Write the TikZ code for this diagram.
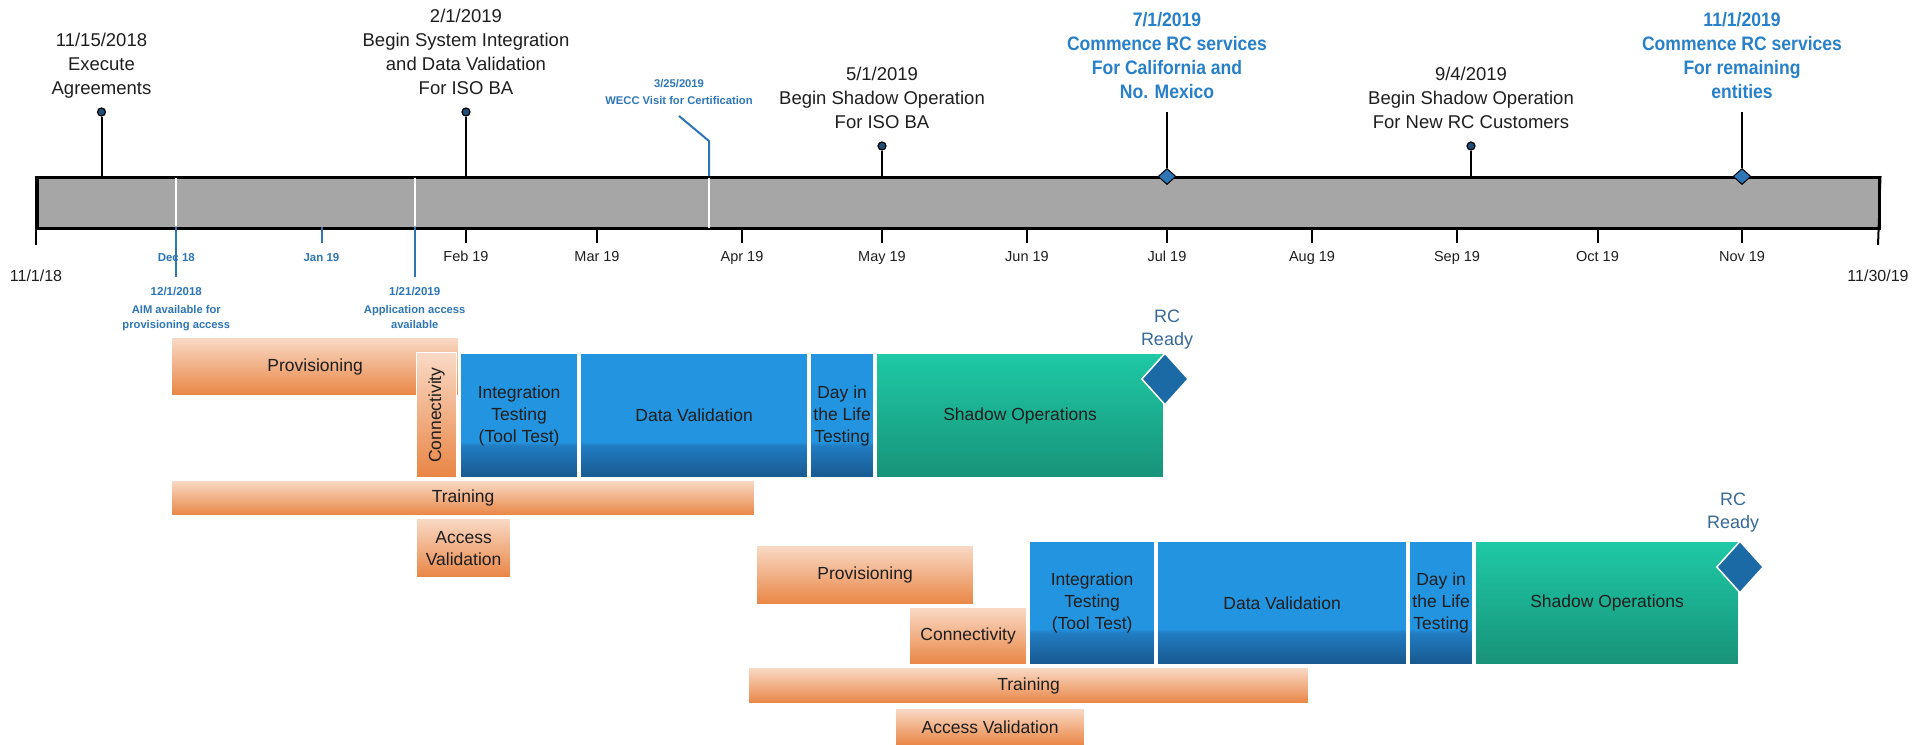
\documentclass[tikz,border=0pt]{standalone}
\usepackage{fontspec}
\setmainfont{Liberation Sans}
\newfontfamily\boldcond{Liberation Sans}[FakeStretch=0.9]
\usetikzlibrary{shapes.geometric}

\definecolor{barGray}{RGB}{166,166,166}
\definecolor{txtDark}{RGB}{30,30,30}
\definecolor{keyBlue}{RGB}{40,128,200}
\definecolor{noteBlue}{RGB}{46,117,182}
\definecolor{dotBlue}{RGB}{31,78,121}
\definecolor{msBlue}{RGB}{46,117,182}
\definecolor{diaBlue}{RGB}{27,106,165}
\definecolor{rcText}{RGB}{55,105,150}
\definecolor{orTop}{RGB}{249,218,198}
\definecolor{orBot}{RGB}{233,133,68}
\definecolor{teTop}{RGB}{30,201,166}
\definecolor{teBot}{RGB}{24,147,121}
\definecolor{blueMain}{RGB}{35,148,224}
\definecolor{blueMid}{RGB}{33,125,195}
\definecolor{blueDark}{RGB}{24,88,142}

\pgfdeclareverticalshading{blueshade}{100bp}{color(0bp)=(blueDark); color(25bp)=(blueDark); color(38bp)=(blueMid); color(39.5bp)=(blueMain); color(100bp)=(blueMain)}

\tikzset{
  toplabel/.style={align=center, anchor=south, inner sep=0pt, text depth=0pt, font=\fontsize{18.5}{24}\selectfont, text=txtDark},
  keylabel/.style={align=center, anchor=south, inner sep=0pt, text depth=0pt, font=\boldcond\bfseries\fontsize{19.5}{24}\selectfont, text=keyBlue},
  monthlabel/.style={anchor=base, inner sep=0pt, font=\fontsize{14.5}{16}\selectfont, text=txtDark},
  endlabel/.style={anchor=base, inner sep=0pt, font=\fontsize{16}{18}\selectfont, text=txtDark},
  bluemonth/.style={anchor=base, inner sep=0pt, font=\bfseries\fontsize{11.5}{14}\selectfont, text=noteBlue},
  notelabel/.style={align=center, anchor=south, inner sep=0pt, text depth=0pt, font=\bfseries\fontsize{11.2}{15}\selectfont, text=noteBlue},
  pindot/.style={circle, draw=black, line width=1.2pt, fill=dotBlue, minimum size=8pt, inner sep=0pt},
  pinline/.style={draw=black, line width=2pt},
  msdiamond/.style={diamond, draw=black, line width=1pt, fill=msBlue, minimum width=18pt, minimum height=16pt, inner sep=0pt},
  tickline/.style={draw=black, line width=2pt},
  bluetick/.style={draw=noteBlue, line width=2pt},
  whiteline/.style={draw=white, line width=2pt},
  box/.style={draw=white, line width=1.2pt, inner sep=0pt, anchor=north west, align=center, font=\fontsize{17.5}{22}\selectfont, text=txtDark},
  obox/.style={box, top color=orTop, bottom color=orBot},
  bbox/.style={box, shading=blueshade},
  tbox/.style={box, top color=teTop, bottom color=teBot},
  rcdiamond/.style={diamond, fill=diaBlue, draw=white, line width=1.5pt, minimum width=47pt, minimum height=52pt, inner sep=0pt},
  rclabel/.style={align=center, anchor=south, inner sep=0pt, text depth=0pt, font=\fontsize{18}{23}\selectfont, text=rcText},
}

\begin{document}
\begin{tikzpicture}[x=1pt,y=-1pt]
\useasboundingbox (0,0) rectangle (1913,744);

% ---------- timeline bar ----------
\node[draw=black, line width=2.5pt, fill=barGray, anchor=north west, minimum width=1842pt, minimum height=51pt, inner sep=0pt] (bar) at (36,176) {};

% end ticks
\draw[tickline] (bar.north west) -- (36,245);
\draw[tickline] (bar.north east) -- (1878,245);
\node[endlabel] (lstart) at (36,281) {11/1/18};
\node[endlabel] (lend) at (1878,281) {11/30/19};

% month ticks and labels
\foreach \x/\m in {466/Feb 19, 597/Mar 19, 742/Apr 19, 882/May 19, 1027/Jun 19, 1167/Jul 19, 1312/Aug 19, 1457/Sep 19, 1597.5/Oct 19, 1742/Nov 19}{
  \draw[tickline] (\x,227) -- (\x,243);
  \node[monthlabel] at (\x,261.5) {\m};
}

% Dec 18 / 12/1/2018 marker
\draw[whiteline] (176.3,177.5) -- (176.3,225.5);
\draw[bluetick] (176.3,227) -- (176.3,277);
\node[bluemonth] (dec) at (176.3,261) {Dec 18};
\node[bluemonth] (aimdate) at (176.3,295) {12/1/2018};
\node[notelabel] (aim) at (176.3,329) {AIM available for\\provisioning access};

% Jan 19
\draw[bluetick] (321.5,227) -- (321.5,243);
\node[bluemonth] (jan) at (321.5,261) {Jan 19};

% 1/21/2019 marker
\draw[whiteline] (414.7,177.5) -- (414.7,225.5);
\draw[bluetick] (414.7,227) -- (414.7,277);
\node[bluemonth] (appdate) at (414.7,295) {1/21/2019};
\node[notelabel] (app) at (414.7,329) {Application access\\available};

% WECC visit
\node[notelabel, font=\bfseries\fontsize{11.2}{17}\selectfont] (wecc) at (679,104.5) {3/25/2019\\WECC Visit for Certification};
\coordinate (w0) at (679,116);
\coordinate (w1) at (709,141);
\draw[draw=noteBlue, line width=2pt] (w0) -- (w1) -- (w1 |- bar.north);
\draw[whiteline] ([yshift=-1.5pt]w1 |- bar.north) -- ([yshift=1.5pt]w1 |- bar.south);

% pins
\node[pindot] (p1) at (101.5,112) {};
\draw[pinline] (p1) -- (p1 |- bar.north);
\node[toplabel] (l1) at (101.5,95) {11/15/2018\\Execute\\Agreements};

\node[pindot] (p2) at (466,112) {};
\draw[pinline] (p2) -- (p2 |- bar.north);
\node[toplabel] (l2) at (466,95) {2/1/2019\\Begin System Integration\\and Data Validation\\For ISO BA};

\node[pindot] (p3) at (882,146) {};
\draw[pinline] (p3) -- (p3 |- bar.north);
\node[toplabel] (l3) at (882,129) {5/1/2019\\Begin Shadow Operation\\For ISO BA};

\node[pindot] (p4) at (1471,146) {};
\draw[pinline] (p4) -- (p4 |- bar.north);
\node[toplabel] (l4) at (1471,129) {9/4/2019\\Begin Shadow Operation\\For New RC Customers};

% key milestones
\coordinate (k1top) at (1167,112);
\node[msdiamond] (k1) at (1167,176.5) {};
\draw[pinline] (k1top) -- (k1);
\node[keylabel] (l5) at (1167,99) {7/1/2019\\Commence RC services\\For California and\\No. Mexico};

\coordinate (k2top) at (1742,112);
\node[msdiamond] (k2) at (1742,176.5) {};
\draw[pinline] (k2top) -- (k2);
\node[keylabel] (l6) at (1742,99) {11/1/2019\\Commence RC services\\For remaining\\entities};

% ---------- group 1 ----------
\node[obox, minimum width=287pt, minimum height=58pt] (prov1) at (171,337) {Provisioning};
\node[obox, minimum width=40pt, minimum height=125pt] (conn1) at (416,352) {\rotatebox{90}{Connectivity}};
\node[bbox, minimum width=117pt, minimum height=124pt] (int1) at (460,353) {Integration\\Testing\\(Tool Test)};
\node[bbox, minimum width=227pt, minimum height=124pt] (dv1) at (580,353) {Data Validation};
\node[bbox, minimum width=63pt, minimum height=124pt] (dl1) at (810,353) {Day in\\the Life\\Testing};
\node[tbox, minimum width=287pt, minimum height=124pt] (sh1) at (876,353) {Shadow Operations};
\node[rcdiamond] (rc1) at (1165,379) {};
\node[rclabel] (rcl1) at (1167,346) {RC\\Ready};
\node[obox, minimum width=583pt, minimum height=35pt] (tr1) at (171,480) {Training};
\node[obox, minimum width=94pt, minimum height=59pt] (av1) at (416,518) {Access\\Validation};

% ---------- group 2 ----------
\node[obox, minimum width=217pt, minimum height=59pt] (prov2) at (756,545) {Provisioning};
\node[obox, minimum width=117pt, minimum height=57pt] (conn2) at (909,607) {Connectivity};
\node[bbox, minimum width=125pt, minimum height=123pt] (int2) at (1029,541) {Integration\\Testing\\(Tool Test)};
\node[bbox, minimum width=249pt, minimum height=123pt] (dv2) at (1157,541) {Data Validation};
\node[bbox, minimum width=63pt, minimum height=123pt] (dl2) at (1409,541) {Day in\\the Life\\Testing};
\node[tbox, minimum width=263pt, minimum height=123pt] (sh2) at (1475,541) {Shadow Operations};
\node[rcdiamond] (rc2) at (1740,567) {};
\node[rclabel] (rcl2) at (1733,529) {RC\\Ready};
\node[obox, minimum width=560pt, minimum height=36pt] (tr2) at (748,667) {Training};
\node[obox, minimum width=189pt, minimum height=37pt] (av2) at (895,708) {Access Validation};

\end{tikzpicture}
\end{document}
